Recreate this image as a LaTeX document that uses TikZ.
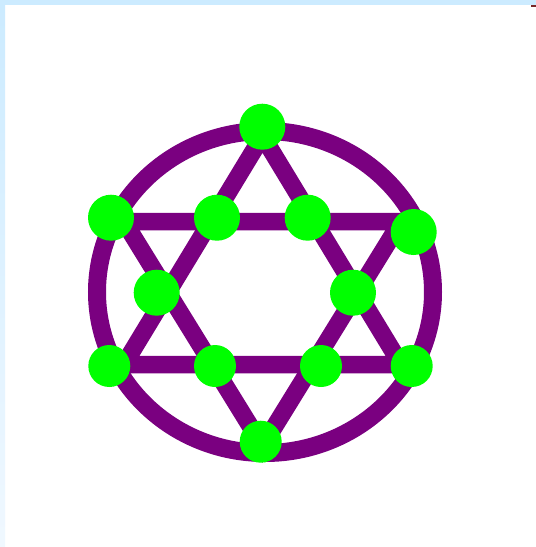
\documentclass[tikz,border=0pt]{standalone}
\usetikzlibrary{shapes.geometric}
\definecolor{starpurple}{RGB}{122,0,128}
\definecolor{dotgreen}{RGB}{0,255,0}
\definecolor{edgeblue}{RGB}{204,235,255}
\definecolor{edgeblue2}{RGB}{240,248,255}
\definecolor{markred}{RGB}{120,40,40}
\tikzset{
  bigdot/.style={circle,fill=dotgreen,draw=none,inner sep=0pt,minimum size=46pt},
  smalldot/.style={circle,fill=dotgreen,draw=none,inner sep=0pt,minimum size=42pt},
  ring/.style={draw=starpurple,line width=18pt},
  tri/.style={draw=starpurple,line width=17.5pt,line join=miter}
}
\begin{document}
\begin{tikzpicture}[x=1pt,y=-1pt]
\useasboundingbox (0,0) rectangle (536,547);
\fill[white] (0,0) rectangle (536,547);
\fill[edgeblue] (0,0) rectangle (536,5);
\shade[top color=edgeblue,bottom color=edgeblue2] (0,5) rectangle (5,547);
\fill[markred] (531,5) rectangle (536,7);
% outer ring
\draw[ring] (265,292) ellipse [x radius=168, y radius=161];
% triangle vertices
\coordinate (A) at (262.5,136);
\coordinate (B) at (124,364.5);
\coordinate (C) at (401,364.5);
\coordinate (D) at (124,221.5);
\coordinate (E) at (401,221.5);
\coordinate (F) at (262.5,446);
\draw[tri] (A) -- (B) -- (C) -- cycle;
\draw[tri] (D) -- (E) -- (F) -- cycle;
% green dots
\node[bigdot] (d1) at (262.3,126.7) {};
\node[bigdot] (d2) at (111,217.7) {};
\node[bigdot] (d3) at (217,217.7) {};
\node[bigdot] (d4) at (307.7,217.7) {};
\node[bigdot] (d5) at (413.7,232) {};
\node[bigdot] (d6) at (156.7,292.7) {};
\node[bigdot] (d7) at (353,292.7) {};
\node[smalldot] (d8) at (109.3,366) {};
\node[smalldot] (d9) at (215,366) {};
\node[smalldot] (d10) at (321,366) {};
\node[smalldot] (d11) at (411.7,366) {};
\node[smalldot] (d12) at (260.7,441.7) {};
\end{tikzpicture}
\end{document}
